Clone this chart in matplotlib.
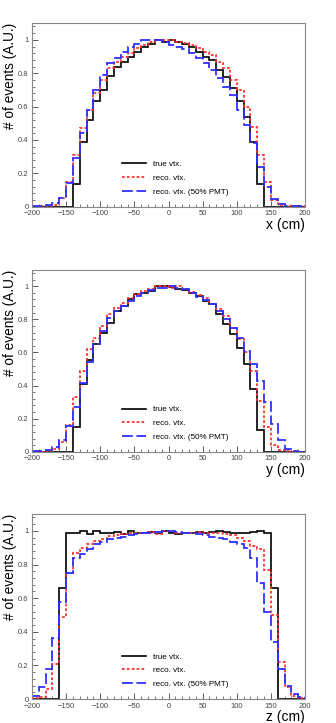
import numpy as np
import matplotlib
matplotlib.use("Agg")
import matplotlib.pyplot as plt
from matplotlib.ticker import MultipleLocator

plt.rcParams["font.family"] = ["Liberation Sans", "DejaVu Sans"]

bin_edges = np.arange(-200, 201, 10)
labels = ["true vtx.", "reco. vtx.", "reco. vtx. (50% PMT)"]
axis_names = ["x (cm)", "y (cm)", "z (cm)"]

# x distribution (40 bins, -200..200)
true_x = [0, 0, 0, 0, 0, 0, 0.135, 0.39, 0.52, 0.635, 0.70, 0.785, 0.84, 0.87, 0.90, 0.93, 0.955, 0.975, 1.0, 0.99,
          1.0, 0.99, 0.975, 0.96, 0.93, 0.90, 0.88, 0.82, 0.78, 0.71, 0.635, 0.535, 0.39, 0.135, 0, 0, 0, 0, 0, 0]
reco_x = [0.003, 0.003, 0.005, 0.01, 0.05, 0.15, 0.31, 0.47, 0.58, 0.68, 0.76, 0.83, 0.87, 0.90, 0.92, 0.95, 0.97, 0.985, 1.0, 1.0,
          1.0, 0.99, 0.98, 0.97, 0.95, 0.93, 0.91, 0.87, 0.83, 0.76, 0.70, 0.60, 0.48, 0.31, 0.15, 0.04, 0.01, 0.005, 0.002, 0.002]
pmt_x = [0.003, 0.005, 0.01, 0.02, 0.05, 0.145, 0.29, 0.44, 0.58, 0.70, 0.79, 0.86, 0.89, 0.93, 0.96, 0.975, 1.0, 1.0, 1.0, 0.99,
         0.97, 0.96, 0.945, 0.92, 0.89, 0.86, 0.82, 0.77, 0.72, 0.67, 0.58, 0.49, 0.38, 0.24, 0.12, 0.045, 0.015, 0.005, 0.003, 0.002]

# y distribution
true_y = [0, 0, 0, 0, 0, 0, 0.15, 0.41, 0.555, 0.65, 0.72, 0.78, 0.85, 0.88, 0.92, 0.955, 0.96, 0.97, 1.0, 1.0,
          0.995, 0.985, 0.98, 0.96, 0.94, 0.91, 0.89, 0.83, 0.77, 0.71, 0.63, 0.53, 0.38, 0.13, 0, 0, 0, 0, 0, 0]
reco_y = [0.002, 0.002, 0.005, 0.02, 0.06, 0.16, 0.33, 0.49, 0.62, 0.69, 0.76, 0.83, 0.87, 0.90, 0.93, 0.955, 0.97, 0.985, 1.0, 1.0,
          0.99, 1.0, 0.985, 0.965, 0.95, 0.93, 0.895, 0.86, 0.82, 0.75, 0.68, 0.60, 0.49, 0.31, 0.15, 0.04, 0.01, 0.005, 0.002, 0.002]
pmt_y = [0.003, 0.005, 0.01, 0.03, 0.07, 0.155, 0.27, 0.415, 0.54, 0.65, 0.73, 0.81, 0.85, 0.88, 0.91, 0.94, 0.96, 0.975, 0.99, 0.99,
         1.0, 0.99, 0.985, 0.96, 0.935, 0.915, 0.89, 0.85, 0.80, 0.75, 0.69, 0.61, 0.53, 0.43, 0.30, 0.17, 0.07, 0.02, 0.005, 0.002]

# z distribution
true_z = [0, 0, 0, 0, 0.66, 0.985, 0.99, 1.0, 0.98, 1.0, 0.99, 0.99, 0.995, 0.98, 1.0, 0.99, 0.985, 0.995, 0.99, 1.0,
          0.99, 0.98, 0.985, 0.99, 0.995, 0.99, 0.995, 1.0, 0.995, 0.99, 0.99, 0.985, 0.995, 1.0, 0.99, 0.66, 0, 0, 0, 0]
reco_z = [0.005, 0.01, 0.06, 0.21, 0.49, 0.75, 0.87, 0.90, 0.92, 0.94, 0.95, 0.97, 0.975, 0.98, 0.99, 0.99, 0.99, 0.995, 0.98, 1.0,
          1.0, 0.99, 0.985, 0.99, 0.995, 0.99, 0.99, 0.99, 0.98, 0.975, 0.96, 0.94, 0.91, 0.89, 0.77, 0.50, 0.22, 0.07, 0.02, 0.005]
pmt_z = [0.02, 0.07, 0.18, 0.365, 0.58, 0.75, 0.84, 0.86, 0.89, 0.92, 0.935, 0.95, 0.96, 0.965, 0.975, 0.98, 0.985, 0.99, 0.995, 1.0,
         1.0, 0.995, 0.99, 0.99, 0.98, 0.975, 0.965, 0.96, 0.95, 0.935, 0.92, 0.90, 0.84, 0.69, 0.52, 0.34, 0.18, 0.08, 0.03, 0.01]

panels = [(true_x, reco_x, pmt_x), (true_y, reco_y, pmt_y), (true_z, reco_z, pmt_z)]
boxes = [[0.095, 0.714, 0.813, 0.254],
         [0.095, 0.375, 0.813, 0.252],
         [0.095, 0.033, 0.813, 0.256]]

fig = plt.figure(figsize=(3.36, 7.23), dpi=100)

for (h_true, h_reco, h_pmt), box, name in zip(panels, boxes, axis_names):
    ax = fig.add_axes(box)
    ax.stairs(h_true, bin_edges, color="black", lw=1.2, label=labels[0])
    ax.stairs(h_reco, bin_edges, color="#ff3030", lw=1.3, linestyle=(0, (1.5, 1.2)), label=labels[1])
    ax.stairs(h_pmt, bin_edges, color="#3030ff", lw=1.3, linestyle=(0, (6, 2)), label=labels[2])

    ax.set_xlim(-200, 200)
    ax.set_ylim(0, 1.1)
    ax.xaxis.set_major_locator(MultipleLocator(50))
    ax.xaxis.set_minor_locator(MultipleLocator(10))
    ax.yaxis.set_major_locator(MultipleLocator(0.2))
    ax.yaxis.set_minor_locator(MultipleLocator(0.04))
    ax.yaxis.set_major_formatter(plt.FuncFormatter(lambda v, p: f"{v:g}"))
    ax.tick_params(which="both", direction="in", labelsize=5.5, colors="#444444")
    ax.tick_params(axis="x", pad=2.5)
    ax.tick_params(axis="y", pad=2.5)
    ax.tick_params(which="major", length=4, width=0.6)
    ax.tick_params(which="minor", length=2, width=0.5)
    for s in ax.spines.values():
        s.set_color("#888888")
        s.set_linewidth(0.8)

    ax.set_xlabel(name, loc="right", fontsize=10, labelpad=0.5)
    ax.set_ylabel("# of events (A.U.)", loc="top", fontsize=9.8, labelpad=1)

    ax.legend(frameon=False, loc="lower left", bbox_to_anchor=(0.31, 0.03),
              fontsize=5.8, handlelength=3.0, handletextpad=0.8, labelspacing=0.75, borderpad=0.2)

fig.savefig("out.png", dpi=100)
